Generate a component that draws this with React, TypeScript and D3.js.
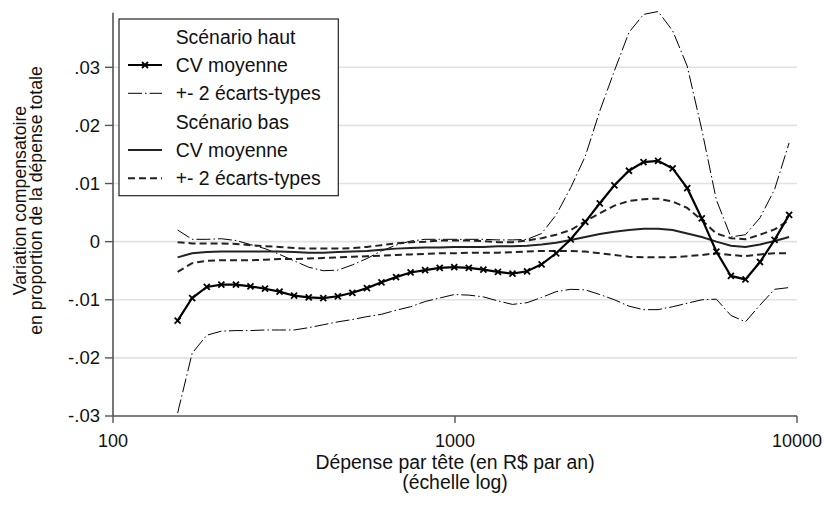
import React from "react";
import * as d3 from "d3";

// Dépense par tête (R$ par an), log-spaced evaluation grid
const depense: number[] = [
  154.5, 170.4, 188.0, 207.4, 228.8, 252.3, 278.2, 306.9, 338.5, 373.5,
  411.9, 454.4, 501.1, 552.7, 609.6, 672.4, 741.6, 817.8, 902.0, 994.9,
  1097.4, 1210.5, 1335.1, 1472.6, 1624.2, 1791.6, 1976.0, 2179.5, 2404.2, 2651.5,
  2924.7, 3225.8, 3557.9, 3924.5, 4328.8, 4775.4, 5266.8, 5809.6, 6408.1, 7067.7,
  7795.9, 8599.8, 9483.5,
];

// Scénario haut : CV moyenne
const hautCV: number[] = [
  -0.0136, -0.0097, -0.0078, -0.0074, -0.0074, -0.0077, -0.0081, -0.0086, -0.0093, -0.0096,
  -0.0097, -0.0094, -0.0088, -0.008, -0.007, -0.0061, -0.0053, -0.0049, -0.0045, -0.0044,
  -0.0045, -0.0048, -0.0052, -0.0055, -0.0051, -0.0039, -0.002, 0.0004, 0.0034, 0.0066,
  0.0097, 0.0122, 0.0137, 0.0139, 0.0126, 0.0092, 0.004, -0.0017, -0.0059, -0.0065,
  -0.0035, 0.0003, 0.0046,
];
// Scénario haut : +2 écarts-types
const hautHigh: number[] = [
  0.002, 0.0004, 0.0004, 0.0005, 0.0002, -0.0005, -0.0012, -0.0022, -0.0033, -0.0044,
  -0.005, -0.0049, -0.004, -0.0029, -0.0016, -0.0006, 0.0001, 0.0004, 0.0004, 0.0004,
  0.0004, 0.0004, 0.0003, 0.0003, 0.0004, 0.0014, 0.0046, 0.0093, 0.0147, 0.0225,
  0.0294, 0.036, 0.0391, 0.0396, 0.0363, 0.0302, 0.0193, 0.0072, 0.0008, 0.0012,
  0.0041, 0.009, 0.017,
];
// Scénario haut : -2 écarts-types
const hautLow: number[] = [
  -0.0295, -0.0192, -0.0161, -0.0154, -0.0153, -0.0153, -0.0152, -0.0152, -0.0152, -0.0148,
  -0.0143, -0.0138, -0.0134, -0.0129, -0.0125, -0.0118, -0.0112, -0.0103, -0.0097, -0.0091,
  -0.0092, -0.0095, -0.0102, -0.0108, -0.0105, -0.0096, -0.0086, -0.0082, -0.0083, -0.0091,
  -0.01, -0.0111, -0.0117, -0.0117, -0.0112, -0.0106, -0.01, -0.0099, -0.0127, -0.0138,
  -0.0109, -0.0082, -0.0079,
];
// Scénario bas : CV moyenne
const basCV: number[] = [
  -0.0027, -0.002, -0.0018, -0.0017, -0.0017, -0.0017, -0.0017, -0.0017, -0.0018, -0.0019,
  -0.0019, -0.0018, -0.0017, -0.0016, -0.0014, -0.0012, -0.0011, -0.001, -0.001, -0.0009,
  -0.0009, -0.0009, -0.0008, -0.0008, -0.0007, -0.0005, -0.0002, 0.0003, 0.0008, 0.0013,
  0.0017, 0.002, 0.0022, 0.0022, 0.002, 0.0014, 0.0008, 0.0, -0.0007, -0.0009,
  -0.0005, 0.0001, 0.0008,
];
// Scénario bas : +2 écarts-types
const basHigh: number[] = [
  -0.0001, -0.0003, -0.0003, -0.0003, -0.0004, -0.0006, -0.0008, -0.0009, -0.0011, -0.0012,
  -0.0012, -0.0012, -0.0011, -0.0009, -0.0006, -0.0003, -0.0001, 0.0, 0.0002, 0.0002,
  0.0002, 0.0001, -0.0001, -0.0001, 0.0002, 0.0006, 0.0012, 0.002, 0.0035, 0.0049,
  0.0062, 0.007, 0.0073, 0.0074, 0.0069, 0.0058, 0.0037, 0.0014, 0.0006, 0.0004,
  0.0012, 0.0021, 0.0037,
];
// Scénario bas : -2 écarts-types
const basLow: number[] = [
  -0.0052, -0.0037, -0.0033, -0.0032, -0.0032, -0.0032, -0.0031, -0.003, -0.003, -0.0029,
  -0.0028, -0.0027, -0.0026, -0.0025, -0.0024, -0.0023, -0.0022, -0.0021, -0.002, -0.002,
  -0.0019, -0.0019, -0.0019, -0.0018, -0.0017, -0.0016, -0.0016, -0.0016, -0.0017, -0.002,
  -0.0023, -0.0026, -0.0027, -0.0027, -0.0027, -0.0025, -0.0023, -0.002, -0.0023, -0.0025,
  -0.0022, -0.002, -0.002,
];

const yTicks: number[] = [-0.03, -0.02, -0.01, 0, 0.01, 0.02, 0.03];
const yTickLabels: string[] = ["-.03", "-.02", "-.01", "0", ".01", ".02", ".03"];
const xTicks: number[] = [100, 1000, 10000];
const xTickLabels: string[] = ["100", "1000", "10000"];

const legendLabels: string[] = [
  "Scénario haut",
  "CV moyenne",
  "+- 2 écarts-types",
  "Scénario bas",
  "CV moyenne",
  "+- 2 écarts-types",
];

const FONT = "Arial, 'Liberation Sans', Helvetica, sans-serif";

export default function App() {
  const W = 825;
  const H = 505;
  const left = 113;
  const right = 797;
  const bottom = 416;
  const topAxis = 12.7;

  const x = d3.scaleLog().domain([100, 10000]).range([left, right]);
  const y = d3.scaleLinear().domain([-0.03, 0.03]).range([bottom, 67.3]);

  const line = (vals: number[]) =>
    d3
      .line<number>()
      .x((_, i) => x(depense[i]))
      .y((v) => y(v))
      .curve(d3.curveLinear)(vals) as string;

  const dashDot = "14,3,1.5,3";
  const dashed = "7,4";

  const xMark = (cx: number, cy: number, k: string) => (
    <path
      key={k}
      d={`M${cx - 3},${cy - 3}L${cx + 3},${cy + 3}M${cx - 3},${cy + 3}L${cx + 3},${cy - 3}`}
      stroke="#000"
      strokeWidth={1.8}
      fill="none"
    />
  );

  const lgX0 = 128;
  const lgX1 = 162;
  const lgText = 175.7;
  const rowY = (i: number) => 36.7 + i * 28.3;

  return (
    <svg
      width={W}
      height={H}
      style={{ position: "absolute", left: 0, top: 0, background: "#fff" }}
      fontFamily={FONT}
    >
      <rect x={0} y={0} width={W} height={H} fill="#fff" />
      {/* grid */}
      {yTicks
        .filter((t) => t !== -0.03)
        .map((t) => (
          <line
            key={"g" + t}
            x1={left}
            x2={right}
            y1={y(t)}
            y2={y(t)}
            stroke="#e2e2e2"
            strokeWidth={1.6}
          />
        ))}

      {/* series */}
      <path d={line(hautHigh)} fill="none" stroke="#000" strokeWidth={1} strokeDasharray={dashDot} />
      <path d={line(hautLow)} fill="none" stroke="#000" strokeWidth={1} strokeDasharray={dashDot} />
      <path d={line(basHigh)} fill="none" stroke="#222" strokeWidth={2} strokeDasharray={dashed} />
      <path d={line(basLow)} fill="none" stroke="#222" strokeWidth={2} strokeDasharray={dashed} />
      <path d={line(basCV)} fill="none" stroke="#222" strokeWidth={2} />
      <path d={line(hautCV)} fill="none" stroke="#000" strokeWidth={2.2} />
      {hautCV.map((v, i) => xMark(x(depense[i]), y(v), "m" + i))}

      {/* axes */}
      <line x1={left} x2={left} y1={topAxis} y2={bottom} stroke="#555" strokeWidth={1.6} />
      <line x1={left} x2={right} y1={bottom} y2={bottom} stroke="#555" strokeWidth={1.6} />
      {yTicks.map((t, i) => (
        <g key={"yt" + t}>
          <line x1={left - 8} x2={left} y1={y(t)} y2={y(t)} stroke="#555" strokeWidth={1.4} />
          <text
            x={100}
            y={y(t)}
            dy="0.35em"
            textAnchor="end"
            fontSize={18.5}
            fill="#111"
          >
            {yTickLabels[i]}
          </text>
        </g>
      ))}
      {xTicks.map((t, i) => (
        <g key={"xt" + t}>
          <line x1={x(t)} x2={x(t)} y1={bottom} y2={bottom + 7} stroke="#555" strokeWidth={1.4} />
          <text x={x(t)} y={447} textAnchor="middle" fontSize={18} fill="#111">
            {xTickLabels[i]}
          </text>
        </g>
      ))}

      {/* axis titles */}
      <text x={455} y={468.5} textAnchor="middle" fontSize={19.4} fill="#111">
        Dépense par tête (en R$ par an)
      </text>
      <text x={455} y={489} textAnchor="middle" fontSize={19.4} fill="#111">
        (échelle log)
      </text>
      <text
        transform="translate(25.5,200.5) rotate(-90)"
        textAnchor="middle"
        fontSize={17.7}
        fill="#111"
      >
        Variation compensatoire
      </text>
      <text
        transform="translate(41.5,200.5) rotate(-90)"
        textAnchor="middle"
        fontSize={17.7}
        fill="#111"
      >
        en proportion de la dépense totale
      </text>

      {/* legend */}
      <rect x={119} y={19} width={219.3} height={176.7} fill="#fff" stroke="#222" strokeWidth={1.2} />
      <line x1={lgX0} x2={lgX1} y1={rowY(1)} y2={rowY(1)} stroke="#000" strokeWidth={2.2} />
      {xMark((lgX0 + lgX1) / 2, rowY(1), "lgm")}
      <line x1={lgX0} x2={lgX1} y1={rowY(2)} y2={rowY(2)} stroke="#000" strokeWidth={1} strokeDasharray={dashDot} />
      <line x1={lgX0} x2={lgX1} y1={rowY(4)} y2={rowY(4)} stroke="#222" strokeWidth={2} />
      <line x1={lgX0} x2={lgX1} y1={rowY(5)} y2={rowY(5)} stroke="#222" strokeWidth={2} strokeDasharray={dashed} />
      {legendLabels.map((l, i) => (
        <text key={"lg" + i} x={lgText} y={rowY(i)} dy="0.36em" fontSize={19.4} fill="#111">
          {l}
        </text>
      ))}
    </svg>
  );
}
